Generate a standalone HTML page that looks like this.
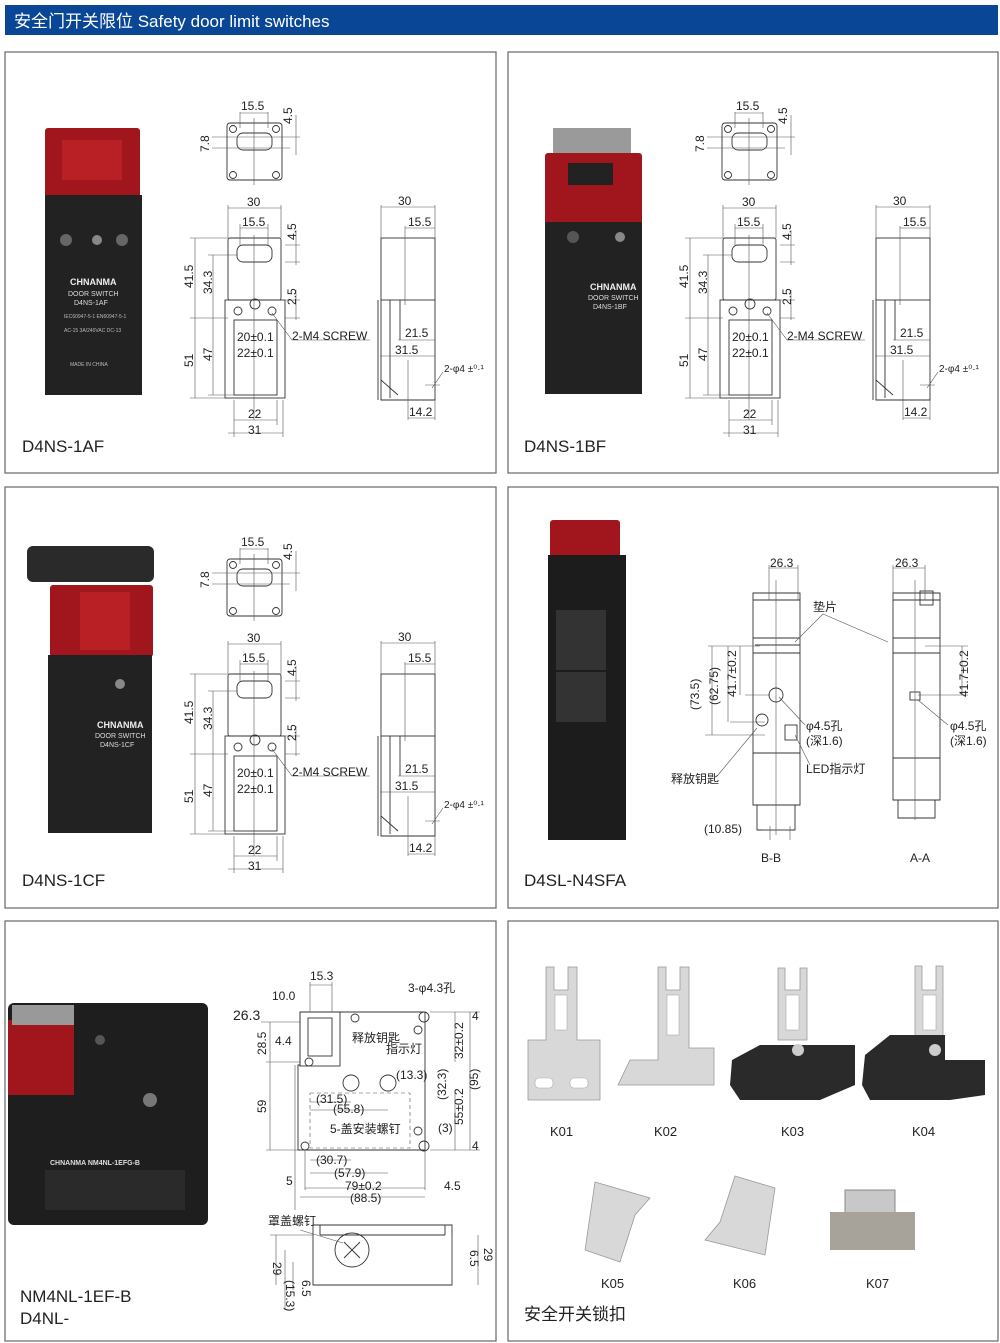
<!DOCTYPE html>
<html><head><meta charset="utf-8"><style>
html,body{margin:0;padding:0;background:#fff;}
svg{display:block;}
text{font-family:"Liberation Sans","Noto Sans CJK SC",sans-serif;fill:#222;}
.l{stroke:#333;stroke-width:0.9;fill:none;}
.t{stroke:#555;stroke-width:0.6;fill:none;}
.d{font-size:12px;}
.lab{font-size:17px;fill:#222;}
</style></head><body>
<svg width="1000" height="1343" viewBox="0 0 1000 1343" xmlns="http://www.w3.org/2000/svg">
<rect x="5" y="5" width="993" height="30" fill="#0a4696"/>
<text x="14" y="27" style="font-size:17px;fill:#fff">安全门开关限位 Safety door limit switches</text>

<g fill="none" stroke="#666" stroke-width="1.2">
<rect x="5" y="52" width="491" height="421"/><rect x="508" y="52" width="490" height="421"/>
<rect x="5" y="487" width="491" height="421"/><rect x="508" y="487" width="490" height="421"/>
<rect x="5" y="921" width="491" height="420"/><rect x="508" y="921" width="490" height="420"/>
</g>

<text class="lab" x="22" y="452">D4NS-1AF</text>
<text class="lab" x="524" y="452">D4NS-1BF</text>
<text class="lab" x="22" y="886">D4NS-1CF</text>
<text class="lab" x="524" y="886">D4SL-N4SFA</text>
<text class="lab" x="20" y="1302">NM4NL-1EF-B</text>
<text class="lab" x="20" y="1324">D4NL-</text>
<text class="lab" x="524" y="1320">安全开关锁扣</text>

<rect x="45" y="128" width="95" height="70" fill="#a0161c" rx="3"/>
<rect x="62" y="140" width="60" height="40" fill="#b82026"/>
<rect x="45" y="195" width="97" height="200" fill="#222"/>
<circle cx="66" cy="240" r="6" fill="#666"/><circle cx="122" cy="240" r="6" fill="#666"/><circle cx="97" cy="240" r="5" fill="#888"/>
<g style="font-size:7px;fill:#ddd"><text x="70" y="285" style="font-size:9px;fill:#eee;font-weight:bold">CHNANMA</text><text x="68" y="296" style="fill:#ddd">DOOR SWITCH</text><text x="74" y="305" style="fill:#ddd">D4NS-1AF</text><text x="64" y="318" style="fill:#bbb;font-size:5px">IEC60947-5-1 EN60947-5-1</text><text x="64" y="332" style="fill:#bbb;font-size:5px">AC-15 3A/240VAC DC-13</text><text x="70" y="366" style="fill:#bbb;font-size:5px">MADE IN CHINA</text></g>

<rect x="553" y="128" width="78" height="28" fill="#9a9a9a"/>
<rect x="545" y="153" width="97" height="72" fill="#a0161c" rx="3"/>
<rect x="568" y="163" width="45" height="22" fill="#222"/>
<rect x="545" y="222" width="97" height="172" fill="#222"/>
<circle cx="620" cy="237" r="5" fill="#888"/><circle cx="573" cy="237" r="6" fill="#555"/>
<text x="590" y="290" style="font-size:9px;fill:#eee;font-weight:bold">CHNANMA</text><text x="588" y="300" style="font-size:7px;fill:#ddd">DOOR SWITCH</text><text x="593" y="309" style="font-size:7px;fill:#ddd">D4NS-1BF</text>

<rect x="27" y="546" width="127" height="36" fill="#2a2a2a" rx="6"/>
<rect x="50" y="585" width="103" height="72" fill="#a0161c" rx="3"/>
<rect x="80" y="592" width="50" height="58" fill="#b82026"/>
<rect x="48" y="655" width="104" height="178" fill="#222"/>
<circle cx="120" cy="684" r="5" fill="#888"/>
<text x="97" y="728" style="font-size:9px;fill:#eee;font-weight:bold">CHNANMA</text><text x="95" y="738" style="font-size:7px;fill:#ddd">DOOR SWITCH</text><text x="100" y="747" style="font-size:7px;fill:#ddd">D4NS-1CF</text>

<rect x="550" y="520" width="70" height="40" fill="#a0161c" rx="3"/>
<rect x="548" y="555" width="78" height="285" fill="#1c1c1c"/>
<rect x="556" y="610" width="50" height="60" fill="#333"/><rect x="556" y="672" width="50" height="50" fill="#333"/>

<rect x="8" y="1003" width="200" height="222" fill="#1e1e1e" rx="6"/>
<rect x="8" y="1020" width="66" height="75" fill="#a0161c"/>
<rect x="12" y="1005" width="62" height="20" fill="#999"/>
<circle cx="150" cy="1100" r="7" fill="#777"/><circle cx="100" cy="1040" r="5" fill="#555"/>
<text x="50" y="1165" style="font-size:7px;fill:#ddd;font-weight:bold">CHNANMA  NM4NL-1EFG-B</text>
<rect x="45" y="1170" width="140" height="40" fill="#2a2a2a"/>

<g>
<rect class="l" x="227" y="123" width="55" height="57" rx="3"/>
<rect class="l" x="237" y="133" width="35" height="17" rx="6"/>
<g class="l"><circle cx="233" cy="129" r="3.5"/><circle cx="276" cy="129" r="3.5"/><circle cx="233" cy="175" r="3.5"/><circle cx="276" cy="175" r="3.5"/></g>
<path class="t" d="M240 112V128M268 112V128M240 113H268M254 118V185M212 148H290M212 137H300M296 115V155"/>
<text class="d" x="241" y="110">15.5</text>
<text class="d" transform="translate(292,124) rotate(-90)">4.5</text>
<text class="d" transform="translate(209,152) rotate(-90)">7.8</text>
<rect class="l" x="228" y="238" width="53" height="62" rx="2"/>
<rect class="l" x="237" y="245" width="35" height="17" rx="6"/>
<rect class="l" x="225" y="300" width="60" height="98"/>
<rect class="l" x="234" y="320" width="43" height="75"/>
<g class="l"><circle cx="238" cy="311" r="4"/><circle cx="272" cy="311" r="4"/><circle cx="255" cy="304" r="5"/></g>
<path class="t" d="M228 205V238M281 205V238M228 208H281M240 224V245M268 224V245M240 228H268M254 235V420M190 238H228M190 318H228M208 255H237M208 395H234M195 238V398M213 255V395M190 398H225M285 245H300M285 262H300M285 300H300M285 318H300M296 230V265M296 290V320M234 400V437M277 400V425M234 420H277M283 400V437M228 433H283M272 313L292 340H370"/>
<text class="d" x="247" y="206">30</text>
<text class="d" x="242" y="226">15.5</text>
<text class="d" transform="translate(296,240) rotate(-90)">4.5</text>
<text class="d" transform="translate(193,288) rotate(-90)">41.5</text>
<text class="d" transform="translate(212,294) rotate(-90)">34.3</text>
<text class="d" transform="translate(296,305) rotate(-90)">2.5</text>
<text class="d" x="292" y="340">2-M4 SCREW</text>
<text class="d" x="237" y="341">20±0.1</text>
<text class="d" x="237" y="357">22±0.1</text>
<text class="d" transform="translate(193,367) rotate(-90)">51</text>
<text class="d" transform="translate(212,361) rotate(-90)">47</text>
<text class="d" x="248" y="418">22</text>
<text class="d" x="248" y="434">31</text>
<rect class="l" x="381" y="238" width="54" height="62"/>
<path class="l" d="M381 300V400H435V300M378 300V400M390 300V398M400 300V340M381 380L398 395"/>
<path class="t" d="M381 205V238M435 205V238M381 207H435M405 226V305M405 228H435M398 340H435M380 356H435M408 360V420M435 400V420M408 418H435M425 385H440M443 372L432 388"/>
<text class="d" x="398" y="205">30</text>
<text class="d" x="408" y="226">15.5</text>
<text class="d" x="405" y="337">21.5</text>
<text class="d" x="395" y="354">31.5</text>
<text class="d" x="444" y="372" style="font-size:10px">2-φ4 ±⁰·¹</text>
<text class="d" x="409" y="416">14.2</text>
</g>
<g transform="translate(495,0)">
<rect class="l" x="227" y="123" width="55" height="57" rx="3"/>
<rect class="l" x="237" y="133" width="35" height="17" rx="6"/>
<g class="l"><circle cx="233" cy="129" r="3.5"/><circle cx="276" cy="129" r="3.5"/><circle cx="233" cy="175" r="3.5"/><circle cx="276" cy="175" r="3.5"/></g>
<path class="t" d="M240 112V128M268 112V128M240 113H268M254 118V185M212 148H290M212 137H300M296 115V155"/>
<text class="d" x="241" y="110">15.5</text>
<text class="d" transform="translate(292,124) rotate(-90)">4.5</text>
<text class="d" transform="translate(209,152) rotate(-90)">7.8</text>
<rect class="l" x="228" y="238" width="53" height="62" rx="2"/>
<rect class="l" x="237" y="245" width="35" height="17" rx="6"/>
<rect class="l" x="225" y="300" width="60" height="98"/>
<rect class="l" x="234" y="320" width="43" height="75"/>
<g class="l"><circle cx="238" cy="311" r="4"/><circle cx="272" cy="311" r="4"/><circle cx="255" cy="304" r="5"/></g>
<path class="t" d="M228 205V238M281 205V238M228 208H281M240 224V245M268 224V245M240 228H268M254 235V420M190 238H228M190 318H228M208 255H237M208 395H234M195 238V398M213 255V395M190 398H225M285 245H300M285 262H300M285 300H300M285 318H300M296 230V265M296 290V320M234 400V437M277 400V425M234 420H277M283 400V437M228 433H283M272 313L292 340H370"/>
<text class="d" x="247" y="206">30</text>
<text class="d" x="242" y="226">15.5</text>
<text class="d" transform="translate(296,240) rotate(-90)">4.5</text>
<text class="d" transform="translate(193,288) rotate(-90)">41.5</text>
<text class="d" transform="translate(212,294) rotate(-90)">34.3</text>
<text class="d" transform="translate(296,305) rotate(-90)">2.5</text>
<text class="d" x="292" y="340">2-M4 SCREW</text>
<text class="d" x="237" y="341">20±0.1</text>
<text class="d" x="237" y="357">22±0.1</text>
<text class="d" transform="translate(193,367) rotate(-90)">51</text>
<text class="d" transform="translate(212,361) rotate(-90)">47</text>
<text class="d" x="248" y="418">22</text>
<text class="d" x="248" y="434">31</text>
<rect class="l" x="381" y="238" width="54" height="62"/>
<path class="l" d="M381 300V400H435V300M378 300V400M390 300V398M400 300V340M381 380L398 395"/>
<path class="t" d="M381 205V238M435 205V238M381 207H435M405 226V305M405 228H435M398 340H435M380 356H435M408 360V420M435 400V420M408 418H435M425 385H440M443 372L432 388"/>
<text class="d" x="398" y="205">30</text>
<text class="d" x="408" y="226">15.5</text>
<text class="d" x="405" y="337">21.5</text>
<text class="d" x="395" y="354">31.5</text>
<text class="d" x="444" y="372" style="font-size:10px">2-φ4 ±⁰·¹</text>
<text class="d" x="409" y="416">14.2</text>
</g>
<g transform="translate(0,436)">
<rect class="l" x="227" y="123" width="55" height="57" rx="3"/>
<rect class="l" x="237" y="133" width="35" height="17" rx="6"/>
<g class="l"><circle cx="233" cy="129" r="3.5"/><circle cx="276" cy="129" r="3.5"/><circle cx="233" cy="175" r="3.5"/><circle cx="276" cy="175" r="3.5"/></g>
<path class="t" d="M240 112V128M268 112V128M240 113H268M254 118V185M212 148H290M212 137H300M296 115V155"/>
<text class="d" x="241" y="110">15.5</text>
<text class="d" transform="translate(292,124) rotate(-90)">4.5</text>
<text class="d" transform="translate(209,152) rotate(-90)">7.8</text>
<rect class="l" x="228" y="238" width="53" height="62" rx="2"/>
<rect class="l" x="237" y="245" width="35" height="17" rx="6"/>
<rect class="l" x="225" y="300" width="60" height="98"/>
<rect class="l" x="234" y="320" width="43" height="75"/>
<g class="l"><circle cx="238" cy="311" r="4"/><circle cx="272" cy="311" r="4"/><circle cx="255" cy="304" r="5"/></g>
<path class="t" d="M228 205V238M281 205V238M228 208H281M240 224V245M268 224V245M240 228H268M254 235V420M190 238H228M190 318H228M208 255H237M208 395H234M195 238V398M213 255V395M190 398H225M285 245H300M285 262H300M285 300H300M285 318H300M296 230V265M296 290V320M234 400V437M277 400V425M234 420H277M283 400V437M228 433H283M272 313L292 340H370"/>
<text class="d" x="247" y="206">30</text>
<text class="d" x="242" y="226">15.5</text>
<text class="d" transform="translate(296,240) rotate(-90)">4.5</text>
<text class="d" transform="translate(193,288) rotate(-90)">41.5</text>
<text class="d" transform="translate(212,294) rotate(-90)">34.3</text>
<text class="d" transform="translate(296,305) rotate(-90)">2.5</text>
<text class="d" x="292" y="340">2-M4 SCREW</text>
<text class="d" x="237" y="341">20±0.1</text>
<text class="d" x="237" y="357">22±0.1</text>
<text class="d" transform="translate(193,367) rotate(-90)">51</text>
<text class="d" transform="translate(212,361) rotate(-90)">47</text>
<text class="d" x="248" y="418">22</text>
<text class="d" x="248" y="434">31</text>
<rect class="l" x="381" y="238" width="54" height="62"/>
<path class="l" d="M381 300V400H435V300M378 300V400M390 300V398M400 300V340M381 380L398 395"/>
<path class="t" d="M381 205V238M435 205V238M381 207H435M405 226V305M405 228H435M398 340H435M380 356H435M408 360V420M435 400V420M408 418H435M425 385H440M443 372L432 388"/>
<text class="d" x="398" y="205">30</text>
<text class="d" x="408" y="226">15.5</text>
<text class="d" x="405" y="337">21.5</text>
<text class="d" x="395" y="354">31.5</text>
<text class="d" x="444" y="372" style="font-size:10px">2-φ4 ±⁰·¹</text>
<text class="d" x="409" y="416">14.2</text>
</g>

<g>
<path class="l" d="M753 600V593H800V600M753 600H800V638H753ZM753 638H800V653H753ZM753 653V805H800V653M753 753H800M757 805V830H795V805M755 645H800"/>
<path class="t" d="M769 565V600M798 565V600M769 568H798M776 580V835M708 646H760M705 735H765M730 722H765M745 695H770M712 646V735M728 646V722M740 646V695M762 830H790M770 826V840M790 826V840"/>
<circle class="l" cx="776" cy="695" r="7"/><circle class="l" cx="762" cy="720" r="6"/>
<rect class="l" x="785" y="725" width="12" height="15"/>
<text class="d" x="770" y="567">26.3</text>
<text class="d" transform="translate(699,710) rotate(-90)">(73.5)</text>
<text class="d" transform="translate(718,705) rotate(-90)">(62.75)</text>
<text class="d" transform="translate(736,697) rotate(-90)">41.7±0.2</text>
<text class="d" x="813" y="611">垫片</text>
<path class="t" d="M823 614L795 642M823 614L888 642M779 697L805 725M757 728L718 775M795 735L810 765"/>
<text class="d" x="806" y="730">φ4.5孔</text>
<text class="d" x="806" y="745">(深1.6)</text>
<text class="d" x="806" y="773">LED指示灯</text>
<text class="d" x="671" y="783">释放钥匙</text>
<text class="d" x="704" y="833">(10.85)</text>
<text class="d" x="761" y="862">B-B</text>
<text class="d" x="910" y="862">A-A</text>
<path class="l" d="M893 600V593H940V600M893 600H940V638H893ZM893 638H940V653H893ZM893 653V800H940V653M893 758H940M898 800V818H935V800"/>
<rect class="l" x="920" y="591" width="13" height="14"/>
<rect class="l" x="910" y="692" width="10" height="8"/>
<path class="t" d="M893 565V600M925 565V600M893 568H925M915 580V820M925 646H968M918 695H968M962 646V695M918 700L948 725"/>
<text class="d" x="895" y="567">26.3</text>
<text class="d" transform="translate(968,697) rotate(-90)">41.7±0.2</text>
<text class="d" x="950" y="730">φ4.5孔</text>
<text class="d" x="950" y="745">(深1.6)</text>
</g>

<g>
<path class="l" d="M300 1012H425V1150H298V1065H300Z"/>
<rect class="l" x="300" y="1012" width="40" height="54"/>
<rect class="l" x="308" y="1018" width="24" height="38"/>
<rect class="t" x="310" y="1093" width="100" height="55" stroke-dasharray="4,3"/>
<circle class="l" cx="351" cy="1083" r="8"/><circle class="l" cx="388" cy="1083" r="8"/>
<g class="l"><circle cx="424" cy="1017" r="5"/><circle cx="424" cy="1146" r="5"/><circle cx="305" cy="1146" r="4"/><circle cx="309" cy="1062" r="4"/><circle cx="355" cy="1018" r="4"/><circle cx="418" cy="1030" r="4"/><circle cx="418" cy="1131" r="4"/></g>
<path class="t" d="M261 1022H300M266 1062H300M266 1150H298M270 1022V1150M430 1012H480M430 1150H480M470 1012V1150M455 1012V1062M455 1150V1090M310 982V1012M332 982V1012M310 985H332M295 1065V1210M305 1150V1190M425 1150V1190M300 1197H425M305 1188H425M310 1160H351M310 1173H388M310 1102H351M310 1110H388"/>
<text class="d" x="310" y="980">15.3</text>
<text class="d" x="272" y="1000">10.0</text>
<text class="d" x="233" y="1020" style="font-size:14px">26.3</text>
<text class="d" x="275" y="1045">4.4</text>
<text class="d" x="408" y="992">3-φ4.3孔</text>
<text class="d" transform="translate(266,1055) rotate(-90)">28.5</text>
<text class="d" transform="translate(266,1113) rotate(-90)">59</text>
<text class="d" x="352" y="1042">释放钥匙</text>
<text class="d" x="386" y="1053">指示灯</text>
<text class="d" x="396" y="1079">(13.3)</text>
<text class="d" x="316" y="1103">(31.5)</text>
<text class="d" x="333" y="1113">(55.8)</text>
<text class="d" x="330" y="1133">5-盖安装螺钉</text>
<text class="d" x="438" y="1132">(3)</text>
<text class="d" transform="translate(463,1059) rotate(-90)">32±0.2</text>
<text class="d" transform="translate(446,1100) rotate(-90)">(32.3)</text>
<text class="d" transform="translate(463,1125) rotate(-90)">55±0.2</text>
<text class="d" transform="translate(478,1090) rotate(-90)">(95)</text>
<text class="d" x="472" y="1020">4</text><text class="d" x="472" y="1150">4</text>
<text class="d" x="316" y="1164">(30.7)</text>
<text class="d" x="334" y="1177">(57.9)</text>
<text class="d" x="286" y="1185">5</text>
<text class="d" x="345" y="1190">79±0.2</text>
<text class="d" x="444" y="1190">4.5</text>
<text class="d" x="350" y="1202">(88.5)</text>
<path class="l" d="M313 1225H452V1285H313Z"/>
<path class="l" d="M320 1225V1235M445 1225V1235M320 1235H445"/>
<circle class="l" cx="352" cy="1250" r="17"/>
<path class="l" d="M344 1242L360 1258M360 1242L344 1258"/>
<path class="t" d="M300 1230L343 1243M276 1235V1285M270 1235H313M285 1250V1310M293 1262V1290M452 1235V1285M478 1235V1285"/>
<text class="d" x="268" y="1225">罩盖螺钉</text>
<text class="d" transform="translate(273,1262) rotate(90)">29</text>
<text class="d" transform="translate(302,1280) rotate(90)">6.5</text>
<text class="d" transform="translate(286,1280) rotate(90)">(15.3)</text>
<text class="d" transform="translate(470,1250) rotate(90)">6.5</text>
<text class="d" transform="translate(484,1248) rotate(90)">29</text>
</g>

<g fill="#d8d8d8" stroke="#999" stroke-width="0.8">
<path d="M546 967H554V990H568V967H577V1040H600V1100H528V1040H546Z"/>
<path d="M658 967H666V990H680V967H689V1048H714V1085H618L630 1060H658Z"/>
<path d="M778 968H785V990H800V968H807V1040H778Z"/>
<path d="M915 966H922V990H936V966H943V1040H915Z"/>
<path d="M595 1182L650 1198L635 1215L620 1262L585 1250Z"/>
<path d="M735 1176L775 1188L765 1255L705 1240L720 1222Z"/>
</g>
<g fill="#fff" stroke="#aaa" stroke-width="0.6">
<rect x="555" y="995" width="12" height="35"/><rect x="667" y="995" width="12" height="40"/>
<rect x="786" y="995" width="13" height="35"/><rect x="923" y="995" width="13" height="35"/>
<rect x="535" y="1078" width="18" height="10" rx="4"/><rect x="570" y="1078" width="18" height="10" rx="4"/>
</g>
<g fill="#2a2a2a"><path d="M732 1060L760 1045H855V1085L820 1100H740L730 1085Z"/><path d="M865 1055L890 1035H945V1060H985V1095L950 1100H870L862 1085Z"/></g>
<circle cx="798" cy="1050" r="6" fill="#ccc"/><circle cx="935" cy="1050" r="6" fill="#ccc"/>
<path d="M845 1190H895V1215H845Z" fill="#c8c8c8" stroke="#888"/>
<path d="M830 1212H915V1250H830Z" fill="#a8a39a"/>
<g class="d" style="font-size:13px">
<text x="550" y="1136">K01</text><text x="654" y="1136">K02</text><text x="781" y="1136">K03</text><text x="912" y="1136">K04</text>
<text x="601" y="1288">K05</text><text x="733" y="1288">K06</text><text x="866" y="1288">K07</text>
</g>
</svg>
</body></html>
